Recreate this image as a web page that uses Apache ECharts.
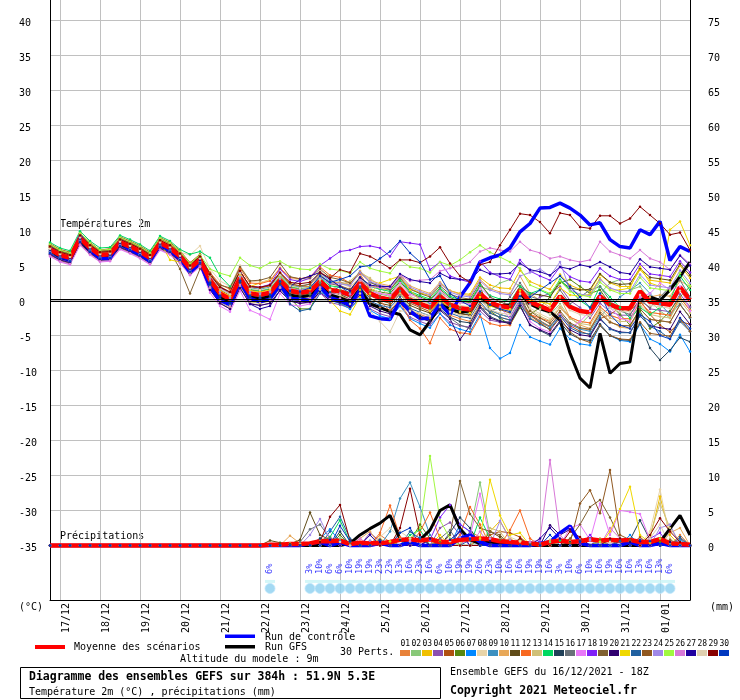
<!DOCTYPE html>
<html>
<head>
<meta charset="UTF-8">
<title>Diagramme des ensembles GEFS</title>
<script src="https://cdn.jsdelivr.net/npm/echarts@6.0.0/dist/echarts.min.js"></script>
<style>
  body { margin: 0; background: #fff; }
  #main { width: 740px; height: 700px; }
</style>
</head>
<body>
<div id="main"></div>
<script type="text/javascript">
// ---- tick labels / categories ----
var days = ['17/12','18/12','19/12','20/12','21/12','22/12','23/12','24/12',
            '25/12','26/12','27/12','28/12','29/12','30/12','31/12','01/01'];

// ---- temperatures 2m (°C), 6h steps from 16/12 18Z ----
var tempMean = [7.3,6.5,6.1,8.9, 7.5,6.5,6.6,8.3, 7.7,7.0,6.1,8.2, 7.5,6.3,4.6,5.8, 2.9,1.0,0.2,3.2, 1.0,0.8,1.1,2.9, 1.4,1.1,1.3,2.7, 1.5,1.3,0.8,2.5, 1.0,0.4,0.1,1.7, 0.1,-0.5,-1.0,0.6, -0.6,-1.1,-1.3,1.0, -0.3,-0.8,-1.0,1.5, -0.2,-0.8,-1.4,0.6, -0.9,-1.5,-1.7,0.6, -0.6,-1.1,-1.1,1.3, -0.2,-0.4,-0.6,1.9, 0.1];
var tempCtrl = [7.5,6.3,5.8,9.2, 7.2,6.0,6.0,8.5, 7.2,6.6,5.6,8.0, 7.1,6.0,4.0,5.4, 2.0,0.0,-0.6,2.6, 0.3,-0.2,0.2,2.2, 0.3,0.2,0.0,2.0, 0.4,0.0,-0.7,1.5, -2.2,-2.6,-2.7,0.0, -1.5,-2.6,-2.5,-0.5, -2.0,0.5,2.5,5.5, 6.1,6.5,7.5,9.8, 11.0,13.2,13.3,13.9, 13.2,12.2,10.8,11.1, 8.7,7.7,7.5,10.1, 9.4,11.3,5.7,7.7, 7.0];
var tempGfs = [7.2,6.2,5.8,8.7, 7.2,6.2,6.3,8.1, 7.4,6.6,5.8,7.9, 7.2,6.0,4.2,5.5, 2.4,0.5,-0.3,2.8, 0.5,0.2,0.6,2.4, 0.8,0.5,0.7,2.1, 0.8,0.4,-0.2,1.6, -0.5,-1.0,-1.6,-2.0, -4.2,-4.9,-3.0,-0.6, -1.2,-1.7,-1.5,0.6, -0.5,-0.8,-0.6,1.0, -0.5,-1.2,-1.6,-2.8, -7.5,-11.1,-12.5,-4.7, -10.4,-9.0,-8.8,0.1, 0.5,0.0,1.5,3.4, 5.5];

var tempP01 = [7.6,6.8,6.4,9.2, 7.8,6.8,6.9,8.6, 8.0,7.3,6.4,8.5, 7.8,6.6,4.9,6.3, 3.6,1.8,1.0,4.2, 2.0,1.8,2.1,3.9, 2.4,2.0,2.0,3.2, 1.5,0.8,0.0,1.5, -0.2,-1.0,-1.4,0.2, -1.4,-2.0,-2.5,-0.9, -2.1,-2.6,-3.0,-0.5, -1.8,-2.4,-2.8,0.0, -2.5,-3.2,-3.8,-1.9, -3.4,-4.0,-4.2,-1.9, -3.1,-3.6,-3.6,-1.2, -2.7,-2.9,-3.1,-0.6, -2.4];
var tempP02 = [6.8,6.0,5.6,8.4, 7.0,6.0,6.1,7.8, 7.2,6.5,5.6,7.7, 7.0,5.8,4.0,5.0, 2.1,0.2,-0.6,2.4, 0.2,0.0,0.3,2.1, 0.8,0.5,0.9,2.6, 1.6,1.5,1.2,3.0, 1.5,0.9,0.6,2.2, 0.6,0.0,-0.5,1.2, 0.2,-0.3,-0.5,2.0, 1.5,2.5,3.0,2.0, 0.5,-1.0,-2.0,-0.5, -2.5,-3.5,-2.0,1.0, 2.5,3.0,1.5,2.0, 0.0,-1.5,-2.5,0.5, -1.0];
var tempP03 = [7.8,7.0,6.6,9.4, 8.0,7.0,7.1,8.8, 8.2,7.5,6.6,8.7, 8.0,6.8,5.1,6.3, 3.2,1.3,0.5,3.5, 2.0,2.5,3.0,3.5, 2.5,1.5,0.5,2.0, 0.5,-0.5,-1.0,1.5, 2.2,1.7,1.5,3.2, 1.7,1.1,0.7,2.4, 1.4,1.0,0.9,3.3, 2.2,1.8,1.7,4.3, 2.7,2.1,1.6,3.7, 2.2,1.6,1.4,3.7, 2.5,2.0,2.0,4.4, 2.9,2.7,2.5,5.0, 3.2];
var tempP04 = [7.0,6.2,5.8,8.6, 7.2,6.2,6.3,8.0, 7.4,6.7,5.8,7.9, 7.2,6.0,4.2,5.2, 1.6,-0.4,-1.2,1.8, -0.4,-0.7,-0.4,1.4, 0.0,-0.4,-0.3,1.1, -0.3,-0.6,-1.1,0.4, -1.2,-1.9,-2.3,-0.7, -2.4,-3.0,-3.5,-1.9, -3.1,-3.6,-3.8,-1.5, -2.8,-3.1,-3.0,-0.5, -0.5,0.5,1.0,2.0, 0.0,-1.0,-2.5,-0.4, -1.6,-2.1,-2.1,0.3, -1.2,-1.4,-1.6,0.9, -0.9];
var tempP05 = [8.1,7.3,6.9,9.6, 8.3,7.2,7.4,9.1, 8.5,7.8,6.9,9.0, 8.3,7.1,5.4,6.6, 3.4,1.5,0.7,3.7, 1.5,1.3,1.6,3.4, 1.9,1.6,1.8,3.2, 1.8,1.4,0.8,2.4, 0.7,0.0,-0.4,1.2, -0.4,-1.0,-1.6,0.0, -1.2,-1.8,-2.1,0.2, -1.4,-2.0,-2.4,0.0, -2.0,-2.9,-3.7,-1.8, -3.6,-4.4,-4.9,-2.6, -2.0,-1.0,-1.5,0.0, -2.0,-3.5,-4.5,-3.0, -3.4];
var tempP06 = [7.3,6.5,6.1,8.9, 7.5,6.5,6.6,8.3, 7.7,7.0,6.1,8.2, 7.5,6.3,4.6,5.8, 2.0,0.0,-0.8,2.2, 0.0,-0.2,0.1,1.9, 0.4,-1.2,-1.2,1.7, 0.5,0.4,0.0,2.2, 1.6,1.2,1.0,2.7, 1.1,0.5,0.0,1.6, 0.4,-0.1,-0.3,2.0, -1.5,-2.5,-3.5,-1.0, -2.0,-1.0,0.5,2.5, 3.0,2.0,1.0,1.5, -0.5,-2.0,-3.5,-1.5, -4.0,-3.0,-1.5,0.5, 2.0];
var tempP07 = [6.7,5.9,5.5,8.3, 6.9,5.9,6.0,7.7, 7.1,6.4,5.5,7.6, 6.9,5.7,4.0,5.2, 2.4,0.5,-0.3,2.7, 0.5,0.3,0.4,2.2, 0.6,0.3,0.2,1.6, 0.0,-0.4,-1.2,0.3, -1.4,-2.2,-2.6,-0.8, -2.6,-3.3,-3.9,-1.9, -3.5,-4.1,-4.5,-2.0, -6.8,-8.3,-7.5,-3.5, -5.2,-5.8,-6.3,-4.0, -5.5,-6.2,-6.4,-3.6, -5.0,-5.7,-5.9,-3.4, -5.5,-6.2,-7.3,-4.9, -7.3];
var tempP08 = [7.9,7.1,6.7,9.5, 8.1,7.1,7.2,8.9, 8.3,7.6,6.7,8.8, 8.1,6.9,6.5,7.8, 4.5,2.8,2.0,5.0, 2.8,2.6,2.9,4.7, 3.2,2.9,3.0,4.3, 2.9,2.5,1.9,3.4, 1.8,1.1,0.7,2.3, 0.6,0.0,-0.5,1.1, -0.1,-0.7,-0.9,1.3, -0.2,-0.9,-1.3,1.0, -1.1,-1.9,-2.6,-0.7, -2.4,-3.0,-3.2,-0.9, -2.1,-2.6,-2.6,-0.2, -1.7,-1.9,-2.1,0.4, -1.4];
var tempP09 = [7.1,6.3,5.9,8.7, 7.3,6.3,6.4,8.1, 7.5,6.8,5.9,8.0, 7.3,6.1,4.4,5.6, 3.5,1.7,0.9,3.9, 1.8,1.6,1.9,3.7, 2.2,1.9,2.4,4.0, 2.6,2.6,2.2,4.2, 2.6,2.0,1.5,3.4, 1.2,0.3,-0.4,1.0, -0.8,-1.5,-2.0,0.1, -1.4,-2.0,-2.4,0.2, -2.2,-3.0,-3.8,-2.0, -3.4,-4.1,-4.4,-2.2, -1.0,0.5,1.5,2.5, 1.0,-0.5,-2.0,-0.5, -2.5];
var tempP10 = [7.7,6.9,6.5,9.3, 7.9,6.9,7.0,8.7, 8.1,7.4,6.5,8.6, 7.9,6.7,5.0,6.2, 2.9,1.0,0.2,3.2, 1.0,0.8,1.2,3.1, 1.7,1.6,1.9,3.5, 2.5,2.6,2.3,4.2, 2.9,2.4,2.1,3.7, 2.1,1.5,1.0,2.6, 1.4,0.9,0.7,3.0, 1.7,1.2,1.0,3.5, 1.0,0.0,-1.0,0.5, -2.5,-3.5,-4.0,-1.5, -3.0,-3.8,-4.0,-1.0, 0.5,0.8,0.6,2.8, 2.0];
var tempP11 = [6.5,5.7,5.3,8.1, 6.7,5.7,5.8,7.5, 6.9,6.2,5.3,7.4, 6.7,5.5,3.8,5.0, 2.6,0.7,-0.1,2.9, 0.7,0.5,0.8,2.6, 1.1,0.8,1.0,2.4, 1.1,0.9,0.2,1.9, 0.3,-0.4,-0.7,0.9, -0.7,-1.3,-1.8,-0.2, -1.4,-1.9,-2.1,0.2, -0.8,-1.0,-0.8,2.0, 1.0,0.8,0.5,2.8, 1.8,1.5,1.6,3.8, 2.6,2.3,2.4,4.6, 3.3,3.1,2.9,5.2, 3.6];
var tempP12 = [7.5,6.7,6.3,9.1, 7.7,6.7,6.8,8.5, 7.9,7.2,6.3,8.4, 7.7,6.5,4.8,6.0, 4.0,2.3,1.6,4.6, 2.5,2.4,2.8,4.6, 3.3,3.1,3.4,4.8, 3.6,3.3,2.5,3.8, 1.5,0.0,-1.5,-0.2, -2.8,-4.0,-6.1,-2.5, -4.1,-4.6,-4.8,-2.3, -3.3,-3.6,-3.5,-0.5, -2.0,-2.5,-3.0,-1.0, -2.4,-3.0,-3.2,-0.9, -2.1,-2.6,-2.6,-0.2, -1.7,-1.9,-2.1,0.4, -1.4];
var tempP13 = [6.9,6.1,5.7,8.5, 7.1,6.1,6.2,7.9, 7.3,6.6,5.7,7.8, 7.1,5.9,4.1,5.0, 1.7,-0.2,-1.0,2.0, -0.2,-0.4,-0.1,1.7, 0.2,-0.1,0.1,1.6, 1.5,2.2,2.8,4.0, 3.2,2.0,0.5,1.0, -1.0,-2.5,-3.0,-1.0, -0.5,-1.0,-1.2,1.0, -0.6,-1.2,-1.5,0.8, -1.4,-2.2,-2.9,-1.0, -2.6,-3.3,-3.5,-1.2, -2.5,-3.0,-3.0,-0.6, -2.0,-2.3,-2.5,0.0, -1.8];
var tempP14 = [8.3,7.5,7.1,9.9, 8.5,7.5,7.6,9.3, 8.7,8.0,7.1,9.2, 8.5,7.3,6.6,7.0, 6.1,3.5,2.0,4.0, 1.6,1.4,1.7,3.5, 2.0,1.7,1.9,3.3, 2.1,1.9,1.5,3.3, 2.0,1.6,1.3,2.9, 1.3,0.7,0.2,1.8, 0.6,0.1,-0.1,2.2, 0.7,0.2,-0.2,2.0, 1.0,1.5,0.8,3.0, 1.5,0.0,-1.0,2.0, 0.5,-1.0,-2.5,-1.0, -2.0,-1.0,0.0,3.5, 1.5];
var tempP15 = [7.1,6.3,5.9,8.7, 7.3,6.3,6.4,8.1, 7.5,6.8,5.9,8.0, 7.3,6.1,4.4,5.6, 2.3,0.4,-0.4,2.6, 0.4,0.2,0.5,2.3, 0.8,0.5,0.6,2.0, 0.5,0.2,-0.4,1.2, -0.5,-1.2,-1.6,0.0, -1.6,-2.2,-2.8,-1.2, -2.4,-3.0,-3.2,-0.8, -2.3,-2.9,-3.2,-0.7, -3.5,-4.3,-5.0,-3.1, -4.8,-5.5,-5.7,-3.4, -5.0,-5.6,-5.7,-3.3, -6.8,-8.5,-7.1,-5.3, -5.9];
var tempP16 = [7.6,6.8,6.4,9.2, 7.8,6.8,6.9,8.6, 8.0,7.3,6.4,8.5, 7.8,6.6,4.9,6.1, 2.7,0.8,0.0,3.0, 0.8,0.6,0.9,2.7, 1.2,0.9,1.1,2.5, 1.2,1.0,0.5,2.2, 0.7,0.1,-0.2,1.4, -0.2,-0.8,-1.3,0.3, -2.5,-3.5,-4.0,-1.0, -1.5,-1.0,0.5,2.5, 0.6,0.1,-0.5,1.5, -0.5,0.5,1.5,2.0, 0.0,-1.5,-2.0,0.0, -1.0,0.5,2.0,2.9, 0.5];
var tempP17 = [6.3,5.5,5.1,7.9, 6.5,5.5,5.6,7.3, 6.7,6.0,5.1,7.2, 6.5,5.3,3.6,4.8, 1.1,-0.8,-1.6,1.4, -1.4,-2.0,-2.7,1.0, -0.6,-0.8,-0.5,1.0, 0.2,0.3,0.2,2.2, 1.3,1.0,0.8,2.5, 0.9,0.3,-0.2,1.4, 0.2,-0.3,-0.5,1.8, 0.5,-1.0,-2.5,0.0, -3.0,-4.0,-4.5,-2.0, -4.0,-3.0,-1.5,0.5, -1.0,-2.5,-3.0,0.5, 1.0,2.5,1.5,2.0, -1.5];
var tempP18 = [6.7,5.9,5.5,8.3, 6.9,5.9,6.0,7.7, 7.1,6.4,5.5,7.6, 6.9,5.7,4.0,5.4, 3.5,1.8,1.2,4.0, 2.0,1.9,2.3,4.5, 3.0,2.7,3.2,5.0, 6.0,7.0,7.2,7.7, 7.8,7.5,6.3,8.4, 8.2,8.0,4.4,5.5, 3.5,3.0,2.6,5.6, 4.0,3.4,3.0,5.8, 4.2,3.5,2.9,4.8, 3.4,2.8,2.6,4.6, 3.5,3.0,3.0,5.2, 3.8,3.6,3.4,5.6, 4.0];
var tempP19 = [7.8,7.0,6.6,9.4, 8.0,7.0,7.1,8.8, 8.2,7.5,6.6,8.1, 7.0,4.5,1.0,4.5, 3.6,2.2,1.8,4.8, 2.8,2.9,3.3,5.3, 3.4,3.1,3.3,4.5, 3.3,3.0,2.5,4.0, 2.6,2.0,1.6,3.2, 1.6,1.0,0.5,2.1, 0.9,0.4,0.2,2.5, 0.5,-0.2,-0.7,1.5, -1.5,-2.5,-3.3,-1.5, -3.2,-3.9,-4.1,-1.8, -3.1,-3.6,-3.6,-1.2, -2.7,-2.9,-3.1,-0.6, -2.4];
var tempP20 = [6.6,5.8,5.4,8.2, 6.8,5.8,5.9,7.6, 7.0,6.3,5.4,7.5, 6.8,5.6,3.9,5.0, 1.5,-0.4,-1.2,1.8, -0.5,-0.7,-0.4,1.4, -0.1,-0.4,-0.2,1.2, 0.0,-0.3,-0.9,0.8, -0.8,-1.5,-1.9,-0.3, -1.9,-2.5,-3.0,-1.4, -2.6,-5.6,-3.6,-1.0, -2.5,-3.0,-3.3,-0.8, -3.5,-4.2,-4.8,-2.9, -4.2,-4.9,-5.1,-2.7, -4.0,-4.5,-4.6,-2.2, -3.6,-3.9,-4.1,-1.6, -3.4];
var tempP21 = [7.5,6.7,6.3,9.1, 7.7,6.7,6.8,8.5, 7.9,7.2,6.3,8.4, 5.8,5.5,4.0,5.6, 3.3,1.4,0.6,3.6, 1.4,1.2,1.5,3.3, 1.8,1.4,1.6,3.0, 0.0,-1.5,-2.0,0.5, 1.0,2.5,3.0,3.5, 1.5,0.0,-1.5,0.1, -1.1,-1.6,-1.8,0.5, -0.8,-1.2,-1.3,1.4, 0.0,-0.2,-0.5,1.8, 0.8,0.6,0.9,3.2, 1.5,1.5,1.8,4.8, 2.5,2.0,10.1,11.3, 7.9];
var tempP22 = [7.0,6.2,5.8,8.6, 7.2,6.2,6.3,8.0, 7.4,6.7,5.8,7.9, 7.2,6.0,4.3,5.4, 2.1,0.2,-0.6,2.4, 0.2,0.0,0.3,2.1, -0.5,-1.5,-1.2,1.0, 1.2,2.0,1.0,2.0, -0.1,-0.7,-1.0,0.5, -1.1,-1.7,-2.2,-0.6, -1.8,-2.3,-2.5,-0.2, -1.8,-2.4,-2.8,-0.4, -2.6,-3.4,-4.1,-2.2, -3.9,-4.6,-4.8,-2.5, -4.1,-4.6,-4.6,-2.2, -3.7,-4.4,-5.5,-3.0, -4.4];
var tempP23 = [7.9,7.1,6.7,9.5, 8.1,7.1,7.2,8.9, 8.3,7.6,6.7,8.8, 8.1,6.9,5.2,6.4, 3.9,2.0,1.2,4.2, 2.0,1.8,2.1,3.9, 2.4,2.1,2.3,3.7, 2.4,2.1,1.6,3.2, 1.3,0.6,0.3,1.9, 0.2,-0.4,-0.9,0.7, -0.5,-1.0,-1.2,1.0, -0.6,-1.3,-1.8,0.5, -2.0,-3.2,-4.2,-2.5, -4.5,-5.5,-6.0,-3.6, -5.0,-5.5,-5.6,-3.1, -4.7,-4.9,-5.1,-2.6, -4.4];
var tempP24 = [6.9,6.1,5.7,8.5, 7.1,6.1,6.2,7.9, 7.3,6.6,5.7,7.8, 7.1,5.9,4.2,5.5, 3.1,1.2,0.4,3.4, 1.2,1.0,1.3,3.1, 1.7,1.5,1.8,3.3, 2.4,2.4,2.1,4.0, 2.7,2.2,1.9,3.5, 1.9,1.3,0.8,2.4, 1.2,0.7,0.5,2.8, 1.5,1.0,0.8,3.5, 4.0,4.5,3.5,5.5, 1.5,0.9,0.7,3.0, 1.8,1.3,1.3,3.7, 2.2,2.0,1.8,4.3, 2.5];
var tempP25 = [8.0,7.2,6.8,9.6, 8.2,7.2,7.3,9.0, 8.4,7.7,6.8,8.9, 8.2,7.0,5.3,6.5, 4.5,3.9,3.5,6.1, 5.0,4.6,5.4,5.6, 4.8,4.5,4.4,5.2, 4.5,4.3,3.9,5.5, 4.6,4.2,3.9,5.8, 4.8,4.6,4.0,5.5, 5.0,5.8,6.9,7.9, 6.9,6.2,5.5,4.6, 2.2,1.6,1.0,2.8, 1.3,0.8,0.5,2.6, 1.5,1.0,1.0,3.3, 1.8,1.6,1.4,3.9, 2.1];
var tempP26 = [6.4,5.6,5.2,8.0, 6.6,5.6,5.7,7.4, 6.8,6.1,5.2,7.3, 6.6,5.4,3.7,4.9, 1.9,0.0,-0.8,2.2, 0.0,-0.2,0.1,1.9, 0.4,0.1,0.3,1.9, 0.9,1.0,0.9,3.0, 2.0,1.8,1.8,3.6, 2.8,2.9,3.0,4.2, 4.6,5.0,5.5,7.0, 7.5,7.2,7.0,8.4, 7.2,6.8,6.0,6.3, 5.8,5.5,5.8,8.4, 7.0,6.5,6.0,7.2, 6.0,5.5,4.4,6.5, 5.2];
var tempP27 = [7.3,6.5,6.1,8.9, 7.5,6.5,6.6,8.3, 7.7,7.0,6.1,8.2, 7.5,6.3,4.6,5.8, 2.5,0.6,-0.2,2.8, -0.5,-1.2,-0.8,1.5, 2.0,3.0,3.5,4.0, 3.0,2.0,1.4,3.3, 2.2,2.0,2.0,3.8, 3.0,2.7,2.5,3.9, 3.2,3.0,2.9,4.4, 3.8,3.8,3.9,5.3, 4.4,4.1,3.6,4.8, 4.5,5.1,4.8,5.5, 4.8,4.0,3.8,5.9, 4.8,4.6,4.4,6.4, 5.0];
var tempP28 = [7.4,6.6,6.2,9.0, 7.6,6.6,6.7,8.4, 7.8,7.1,6.2,8.3, 7.6,6.4,4.7,6.0, 3.6,1.7,0.9,3.9, 1.7,1.5,1.8,3.6, 2.1,1.8,1.8,3.0, 1.5,0.8,-0.5,1.0, -1.5,-3.0,-4.5,-1.5, -1.5,-1.8,-2.2,-0.4, -1.6,-2.1,-2.3,0.0, -1.3,-1.8,-2.0,0.5, -0.7,-1.3,-1.9,0.1, -1.4,-2.0,-2.2,0.1, -1.1,-1.6,-1.6,0.8, -0.7,-0.9,-1.1,1.4, -0.4];
var tempP29 = [7.7,6.9,6.5,9.3, 7.9,6.9,7.0,8.7, 8.1,7.4,6.5,8.6, 7.9,6.7,5.0,6.3, 3.7,1.9,1.2,4.2, 2.0,1.9,2.2,4.0, 2.6,2.4,2.6,4.0, 3.2,4.4,4.0,6.7, 6.3,5.5,4.6,5.8, 5.8,5.4,6.3,7.6, 5.3,3.5,2.6,5.1, 5.5,7.9,10.1,12.4, 12.2,11.2,9.6,12.5, 12.2,10.5,10.3,12.1, 12.1,11.0,11.7,13.4, 12.2,11.0,9.4,9.7, 7.2];
var tempP30 = [6.8,6.0,5.6,8.4, 7.0,6.0,6.1,7.8, 7.2,6.5,5.6,7.7, 7.0,5.8,4.1,5.4, 2.5,0.6,-0.2,2.8, 0.6,0.4,0.8,2.7, 1.4,1.3,1.8,3.5, 2.6,3.0,3.5,4.8, 5.0,6.0,7.0,8.5, 6.8,5.5,3.0,3.5, 1.0,0.0,-0.8,1.3, -0.6,-1.2,-1.6,0.6, 0.5,1.5,2.5,3.5, 2.0,0.5,-1.0,1.0, -2.0,-3.5,-4.0,-2.0, -3.0,-5.0,-5.5,-2.5, -4.0];

// ---- precipitations (mm / 6h) ----
var precMean = [0,0,0,0,0,0,0,0,0,0,0,0,0,0,0,0,0,0,0,0, 0,0,0.1,0.1,0.2, 0.2,0.3,0.6,0.6,0.7, 0.2,0.4,0.3,0.3,0.5, 0.8,0.9,0.7,0.9,0.5, 0.5,0.8,0.9,1.0,0.9, 0.6,0.5,0.4,0.3,0.1, 0.5,0.7,0.5,0.6,0.9, 0.7,0.8,0.7,0.8,0.5, 0.5,0.9,0.3,0.2,0.1];
var precCtrl = [0,0,0,0,0,0,0,0,0,0,0,0,0,0,0,0,0,0,0,0, 0,0,0,0,0, 0,0.3,0.5,0,0.4, 0,0,0,0.3,0, 0,0.5,0,0,0, 0,1.0,1.5,0.5,0, 0,0,0,0,0.3, 0.5,1.8,2.8,0.3,0, 0,0,0,0.5,0, 0,0.3,0,0,0];
var precGfs = [0,0,0,0,0,0,0,0,0,0,0,0,0,0,0,0,0,0,0,0, 0,0,0,0,0, 0,0,0,0,0, 0.3,1.5,2.4,3.2,4.3, 0.9,0.5,0.8,2.2,5.0, 5.8,2.4,0.8,0.3,0.5, 0.3,0,0,0,0, 0,0,0,0,0, 0,0,0,0,0, 0.2,0.5,2.4,4.3,1.5];

var precP01 = [0,0,0,0,0,0,0,0,0,0,0,0,0,0,0,0,0,0,0,0, 0,0,0,0,0.3, 0,0,0.8,1.2,0, 0,0,0,1.5,0.5, 0,0,0,1.0,0, 0,0,2.0,1.2,0, 0,0,0.5,0,0, 0,0.8,0,0,0, 1.0,0,0,0,0, 0.5,0,0,1.5,0];
var precP02 = [0,0,0,0,0,0,0,0,0,0,0,0,0,0,0,0,0,0,0,0, 0,0,0,0,0, 0,0,0,0,1.0, 0.5,0,0,0,0, 0,0.8,0,0,0, 0,0,2.0,9.0,1.5, 0,0,0,0,0, 0.5,0,0,0,0, 0,0,0,0.6,0, 0,0,0.4,0,0];
var precP03 = [0,0,0,0,0,0,0,0,0,0,0,0,0,0,0,0,0,0,0,0, 0,0,0,0,0, 0,0,0.5,0,0, 0,0,0,1.0,0, 0,0,0,0,0.6, 0,0,0,0,2.0, 3.5,1.0,0,0,0, 0,0,0.4,0,0, 0,0,0,0,0, 1.0,7.0,1.5,0,0];
var precP04 = [0,0,0,0,0,0,0,0,0,0,0,0,0,0,0,0,0,0,0,0, 0,0,0,0,0, 0,0,0,1.2,0, 0,0,1.8,0.6,0, 0,0,0,0,2.5, 3.3,1.5,0,0,0, 0,0,0,0.5,0, 0,0,0,0,0, 0,0,1.0,0,0, 0,0,0,0,0];
var precP05 = [0,0,0,0,0,0,0,0,0,0,0,0,0,0,0,0,0,0,0,0, 0,0,0,0,0, 0,0,0,0,0, 0.4,0,0,0,0, 0.8,0,0,0,0, 0,0,0,0,1.5, 2.0,1.8,1.2,0,0, 0,0,0,0.8,0, 0,0,0,0,1.2, 0,0,0,1.0,0];
var precP06 = [0,0,0,0,0,0,0,0,0,0,0,0,0,0,0,0,0,0,0,0, 0,0,0,0,0, 0,0,0,0,1.5, 0,0,0,0,0, 0,0.5,3.0,1.0,0, 0,0,0,0,0, 0,0,0,0.3,0, 0,0,0,0,0, 0.8,0,0,0,0, 0,0.5,0,0,0];
var precP07 = [0,0,0,0,0,0,0,0,0,0,0,0,0,0,0,0,0,0,0,0, 0,0,0,0,0, 0,0,1.0,2.3,0.6, 0,0,0,0,0, 0,0,1.2,0,0, 0,3.0,2.0,0,0, 0,0,0,0,0.6, 0,0,0,0.7,0, 0,0,0,1.5,0, 0,0,0,0.8,0];
var precP08 = [0,0,0,0,0,0,0,0,0,0,0,0,0,0,0,0,0,0,0,0, 0,0,0,0,0, 0,0,0,0,0, 0,0,0,1.2,2.5, 1.0,0,0,0,0, 0.6,0,0,0,0, 1.0,0,0,0,0, 0,0,0,0,0, 0,0.5,0,0,0, 2.0,8.0,1.0,0,0];
var precP09 = [0,0,0,0,0,0,0,0,0,0,0,0,0,0,0,0,0,0,0,0, 0,0,0,0,0, 0,0,0,0,0, 0,0,0,0,2.0, 6.7,9.0,5.5,1.5,0, 0,0,0,0.8,0, 0,0,0,0.5,0, 0,0,0,0,1.0, 0,0,0,0,0, 0,0,0,0,0];
var precP10 = [0,0,0,0,0,0,0,0,0,0,0,0,0,0,0,0,0,0,0,0, 0,0,0,0,1.4, 0.3,0,0,0,0, 0,1.0,2.0,0,0, 0,0,0,0.8,0, 0,0,0,0,0, 0,1.0,0,0,0, 0,0,0.6,0,0, 0,0,0,0,0, 0,0,1.8,2.5,0];
var precP11 = [0,0,0,0,0,0,0,0,0,0,0,0,0,0,0,0,0,0,0,0, 0,0,0.7,0.4,0.2, 0.8,4.7,1.5,0.8,0, 0,0,0,0,0.6, 0,0,0,0,0, 0,0,0,0,2.0, 1.2,0,0,0,0, 0,0,0,0,0, 0,0,0.6,0,0, 0,0,0,0,0];
var precP12 = [0,0,0,0,0,0,0,0,0,0,0,0,0,0,0,0,0,0,0,0, 0,0,0,0,0, 0,0,0,0,0, 0,0,0,1.8,5.7, 1.2,0,2.0,4.7,1.0, 0,1.5,5.5,3.0,0, 0,2.2,5.0,1.0,0, 0,0,0,0,0, 0.6,0,0,0,0.8, 0,0,0,0,0];
var precP13 = [0,0,0,0,0,0,0,0,0,0,0,0,0,0,0,0,0,0,0,0, 0,0,0,0,0, 0,0,0,0,0, 0.5,0,0,0,0, 0,1.0,0,0,0, 0,0,0,0,2.5, 2.0,0,0,0,0, 0.8,0,0,0,0, 0,0,0,0,0, 1.5,6.0,2.5,0.5,0];
var precP14 = [0,0,0,0,0,0,0,0,0,0,0,0,0,0,0,0,0,0,0,0, 0,0,0,0,0, 0,0,0,1.2,3.6, 0.5,0,0,0,0, 0,1.5,2.2,0,0, 0,0,0,4.0,1.0, 0,0,0,0,0, 0,0.7,0,0,0, 0,0,0,0.5,0, 0,0,0,0,0];
var precP15 = [0,0,0,0,0,0,0,0,0,0,0,0,0,0,0,0,0,0,0,0, 0,0,0,0,0, 0,0,1.0,0,2.0, 0,0,0,0,0, 0.8,0,0,0,0, 1.8,4.0,2.5,0,0, 0,0,0,0,0, 0,0,0.5,0,0, 0,0,0,0.8,3.6, 0.8,0,0,0,0];
var precP16 = [0,0,0,0,0,0,0,0,0,0,0,0,0,0,0,0,0,0,0,0, 0,0,0,0,0, 0.5,2.3,3.0,1.0,0, 0,0,0,0.7,0, 0,0,0,0,1.0, 2.2,0,0,0,0, 0,0,0,0,0.4, 0,0,0,0,0, 0,0.8,0,0,0, 0,0,0,0,0];
var precP17 = [0,0,0,0,0,0,0,0,0,0,0,0,0,0,0,0,0,0,0,0, 0,0,0,0,0, 0,0,0,0,0, 0,0,0,0,0, 0,0.6,0,0,0, 0,0,1.2,7.4,1.0, 0,0,0,0.5,0, 0,0,2.5,3.0,0.8, 6.0,1.5,5.0,4.8,4.5, 0.8,0,0,0,0];
var precP18 = [0,0,0,0,0,0,0,0,0,0,0,0,0,0,0,0,0,0,0,0, 0,0,0,0,0, 0,0,0,0,0, 0,0,0,0,0, 0,0,0,0.8,4.0, 5.8,3.0,2.0,0,0, 0,0,0,0,0.6, 0,0,0,0,1.5, 0,0,0,0,0, 1.0,1.8,0,0,0];
var precP19 = [0,0,0,0,0,0,0,0,0,0,0,0,0,0,0,0,0,0,0,0, 0,0,0,0,0, 0,0,0,0,0, 0,0,0,0,0, 0,1.0,0,0,0, 1.5,9.2,4.5,2.5,2.0, 1.5,0,0,0,0, 0,0,1.0,3.0,5.5, 6.5,4.0,1.0,0,0, 0,0,0.8,0,0];
var precP20 = [0,0,0,0,0,0,0,0,0,0,0,0,0,0,0,0,0,0,0,0, 0,0,0,0,0, 0,0,0,0,0, 0,0,0,0.5,0, 0,0,0,1.0,0, 0,0,0,0,0.6, 0,0,0,0,0, 2.9,1.5,2.3,0.6,0, 0,0,0,0.5,0, 0,0,0.5,0,0];
var precP21 = [0,0,0,0,0,0,0,0,0,0,0,0,0,0,0,0,0,0,0,0, 0,0,0,0,0, 0,0,0,0,0, 0,0,0,0,0.6, 0,0,0,0,1.5, 0,0,0,1.0,9.4, 4.3,1.5,1.8,0,0, 0,0,0,0,0, 0,2.0,5.2,8.4,1.5, 0.4,0,0,0,0];
var precP22 = [0,0,0,0,0,0,0,0,0,0,0,0,0,0,0,0,0,0,0,0, 0,0,0,0,0, 0,0,0,2.0,4.1, 1.0,0,0,0,0, 0,2.0,1.0,0,0, 0,0,0.8,0,0, 0,0,0,0.5,0, 0,0,0,0,0, 0,0,0.6,0,0, 0,0,0,1.2,0];
var precP23 = [0,0,0,0,0,0,0,0,0,0,0,0,0,0,0,0,0,0,0,0, 0,0,0,0,0, 0,0,0,0,0, 0.5,0,0,0,0, 0,0,0,0,0.5, 0,0,0,0,0, 0.8,0,0,0,0, 0,0,0.3,6.0,7.9, 4.6,10.8,1.5,0.8,0, 0,0,0,0.5,0];
var precP24 = [0,0,0,0,0,0,0,0,0,0,0,0,0,0,0,0,0,0,0,0, 0,0,0,0,0, 0,1.5,3.8,0.8,0, 0,0,0.7,0,0, 0,0,0,0,0, 0,1.2,0,0,0, 3.5,0.8,0,0,0, 0,0,0,0,0.7, 0,0,0,0,0, 0,2.5,3.0,0,0];
var precP25 = [0,0,0,0,0,0,0,0,0,0,0,0,0,0,0,0,0,0,0,0, 0,0,0,0,0, 0,0,0,0,0, 0,0,0,0,0, 0,1.0,2.5,12.8,3.6, 1.0,0,0,0,0, 0,0,0.8,0,0, 0,0,0,0,0, 0.5,0,0,0,0, 0,1.0,0,0,0];
var precP26 = [0,0,0,0,0,0,0,0,0,0,0,0,0,0,0,0,0,0,0,0, 0,0,0,0,0, 0,0,0,0,0, 0,1.0,0,0,0, 0,0,0,0,0, 0,0,0,2.0,0, 0,0,0,0.5,0.8, 12.2,1.5,0,0,0, 0,2.5,1.0,0,0, 0,0,0,0,0];
var precP27 = [0,0,0,0,0,0,0,0,0,0,0,0,0,0,0,0,0,0,0,0, 0,0,0,0,0, 0,0,0,0.8,0, 0,0,1.5,0,0, 0,0,0,0,0, 0.8,2.0,0,0,0, 0,0,0,0,1.0, 2.5,1.0,0,0,0, 0,0,0,0,0.6, 0,0,0,0,0];
var precP28 = [0,0,0,0,0,0,0,0,0,0,0,0,0,0,0,0,0,0,0,0, 0,0,0,0,0, 0,0,0,0,0.5, 0,0,0,0,0, 2.0,1.0,0,0,0, 0,0,0,0,0, 0,1.2,0.6,0,0, 0,0,0,0.5,0, 0,0,0,0,0, 1.0,3.0,0,0,0];
var precP29 = [0,0,0,0,0,0,0,0,0,0,0,0,0,0,0,0,0,0,0,0, 0,0,0,0,0, 0,0,0.5,4.1,5.8, 0.7,0,0,0,0, 2.5,8.1,1.5,0,0, 0,0,0,0,0, 0,0,1.0,0,0, 0,0,2.0,1.2,0, 0,1.0,1.0,0,0, 1.5,3.9,2.0,0.5,0];
var precP30 = [0,0,0,0,0,0,0,0,0,0,0,0,0,0,0,0,0,0,0,0, 0,0,0,0,0, 0,0,0,0,2.8, 0.6,0,0,0.8,0, 1.8,2.5,0,0,0, 0,2.2,1.0,0,0, 0,0,0,0,0, 1.5,0,0,0.5,0, 0,0,0,0,0.8, 0.6,0,0,0,0];

// ---- snow probability (%) per step, null = none ----
var snowPct = [null,null,null,null,null,null,null,null,null,null,null,null,null,null,null,null,null,null,null,null,null,null,
  6,null,null,null,
  3,10,6,6,10,19,19,23,23,13,16,23,16,6,10,19,19,26,23,10,16,16,19,19,16,3,10,6,10,16,19,16,16,13,16,13,6,
  null,null];

var memberColors = ['#e8823a','#88c878','#f0c000','#8c50b0','#b05010','#588810','#0088ff','#e8d4a8','#3c90c0','#e8a858',
                    '#604c18','#f86820','#d0c078','#00d860','#204058','#687078','#e878f8','#8020f8','#806030','#300070',
                    '#f0d800','#2060a0','#905820','#a088e8','#a0f840','#d878d8','#2000a0','#e0d0b0','#880000','#0038c0'];

var tempPerts = [tempP01,tempP02,tempP03,tempP04,tempP05,tempP06,tempP07,tempP08,tempP09,tempP10,
                 tempP11,tempP12,tempP13,tempP14,tempP15,tempP16,tempP17,tempP18,tempP19,tempP20,
                 tempP21,tempP22,tempP23,tempP24,tempP25,tempP26,tempP27,tempP28,tempP29,tempP30];
var precPerts = [precP01,precP02,precP03,precP04,precP05,precP06,precP07,precP08,precP09,precP10,
                 precP11,precP12,precP13,precP14,precP15,precP16,precP17,precP18,precP19,precP20,
                 precP21,precP22,precP23,precP24,precP25,precP26,precP27,precP28,precP29,precP30];

var FONT = 'DejaVu Sans Mono';
var cats = tempMean.map(function (v, i) { return String(i); });
function isDay(idx) { return (idx - 1) % 4 === 0; }

function thinLine(data, color, yIdx) {
  return {
    type: 'line', xAxisIndex: 1, yAxisIndex: yIdx, data: data,
    symbol: 'circle', symbolSize: 2.5, showAllSymbol: true,
    lineStyle: { width: 1, color: color }, itemStyle: { color: color },
    silent: true
  };
}
function thickLine(data, color, width, yIdx) {
  return {
    type: 'line', xAxisIndex: 1, yAxisIndex: yIdx, data: data,
    showSymbol: false, lineStyle: { width: width, color: color }, silent: true
  };
}

var series = [];
tempPerts.forEach(function (d, k) { series.push(thinLine(d, memberColors[k], 2)); });
// double 0°C line
series[0].markLine = {
  silent: true, symbol: 'none', label: { show: false },
  lineStyle: { color: '#000', width: 1, type: 'solid' },
  data: [{ yAxis: 0.15 }, { yAxis: -0.14 }]
};
precPerts.forEach(function (d, k) { series.push(thinLine(d, memberColors[k], 3)); });
series.push(thickLine(tempGfs, '#000000', 3, 2));
series.push(thickLine(precGfs, '#000000', 3, 3));
series.push(thickLine(tempCtrl, '#0000ff', 3.5, 2));
series.push(thickLine(precCtrl, '#0000ff', 3.5, 3));
series.push(thickLine(tempMean, '#ff0000', 4.5, 2));
series.push(thickLine(precMean, '#ff0000', 4.5, 3));

// snow row: band, flakes and percentages
var snowBand = [], snowFlakes = [], snowText = [];
snowPct.forEach(function (p, i) {
  if (p !== null) {
    snowBand.push([i, -40.14]);
    snowFlakes.push([i, -41.14]);
    snowText.push({ value: [i, -39.07], name: p + '%' });
  }
});
series.push({ type: 'scatter', xAxisIndex: 1, yAxisIndex: 2, data: snowBand, symbol: 'rect',
  symbolSize: [10, 3], itemStyle: { color: '#c8f4f6' }, silent: true });
series.push({ type: 'scatter', xAxisIndex: 1, yAxisIndex: 2, data: snowFlakes, symbol: 'circle',
  symbolSize: 10, itemStyle: { color: '#8ccff0', borderColor: '#bfe6fa', borderWidth: 1 }, silent: true });
series.push({ type: 'scatter', xAxisIndex: 1, yAxisIndex: 2, data: snowText, symbolSize: 1,
  itemStyle: { color: 'rgba(0,0,0,0)' }, silent: true,
  label: { show: true, position: 'inside', rotate: 90, align: 'left', verticalAlign: 'middle',
    formatter: '{b}', color: '#0000ff', fontFamily: FONT, fontSize: 8.5 } });

// legend graphics
var graphic = [
  { type: 'text', x: 60, y: 224, style: { text: 'Températures 2m', font: '10px ' + FONT, fill: '#000', verticalAlign: 'middle' } },
  { type: 'text', x: 60, y: 536, style: { text: 'Précipitations', font: '10px ' + FONT, fill: '#000', verticalAlign: 'middle' } },
  { type: 'text', x: 19, y: 607, style: { text: '(°C)', font: '10px ' + FONT, fill: '#000', verticalAlign: 'middle' } },
  { type: 'text', x: 710, y: 607, style: { text: '(mm)', font: '10px ' + FONT, fill: '#000', verticalAlign: 'middle' } },
  { type: 'rect', shape: { x: 35, y: 645, width: 30, height: 4 }, style: { fill: '#ff0000' } },
  { type: 'text', x: 74, y: 647, style: { text: 'Moyenne des scénarios', font: '10px ' + FONT, fill: '#000', verticalAlign: 'middle' } },
  { type: 'rect', shape: { x: 225, y: 634.5, width: 30, height: 3.5 }, style: { fill: '#0000ff' } },
  { type: 'text', x: 265, y: 637, style: { text: 'Run de contrôle', font: '10px ' + FONT, fill: '#000', verticalAlign: 'middle' } },
  { type: 'rect', shape: { x: 225, y: 645, width: 30, height: 3.5 }, style: { fill: '#000000' } },
  { type: 'text', x: 265, y: 647, style: { text: 'Run GFS', font: '10px ' + FONT, fill: '#000', verticalAlign: 'middle' } },
  { type: 'text', x: 340, y: 652, style: { text: '30 Perts.', font: '10px ' + FONT, fill: '#000', verticalAlign: 'middle' } },
  { type: 'text', x: 180, y: 659.5, style: { text: 'Altitude du modele : 9m', font: '10px ' + FONT, fill: '#000', verticalAlign: 'middle' } },
  { type: 'rect', shape: { x: 20.5, y: 667.5, width: 420, height: 31 }, style: { fill: 'none', stroke: '#000', lineWidth: 1 } },
  { type: 'text', x: 29, y: 677, style: { text: 'Diagramme des ensembles GEFS sur 384h : 51.9N 5.3E', font: 'bold 11.5px ' + FONT, fill: '#000', verticalAlign: 'middle' } },
  { type: 'text', x: 29, y: 692, style: { text: 'Température 2m (°C) , précipitations (mm)', font: '10px ' + FONT, fill: '#000', verticalAlign: 'middle' } },
  { type: 'text', x: 450, y: 672.5, style: { text: 'Ensemble GEFS du 16/12/2021 - 18Z', font: '10px ' + FONT, fill: '#000', verticalAlign: 'middle' } },
  { type: 'text', x: 450, y: 691.5, style: { text: 'Copyright 2021 Meteociel.fr', font: 'bold 11.5px ' + FONT, fill: '#000', verticalAlign: 'middle' } }
];
memberColors.forEach(function (c, k) {
  var num = (k + 1 < 10 ? '0' : '') + (k + 1);
  graphic.push({ type: 'text', x: 400.5 + 11 * k, y: 644, style: { text: num, font: '8px ' + FONT, fill: '#000', verticalAlign: 'middle' } });
  graphic.push({ type: 'rect', shape: { x: 400 + 11 * k, y: 650, width: 10, height: 6 }, style: { fill: c } });
});

var axisFont = { fontFamily: FONT, fontSize: 10, color: '#000' };

var myChart = echarts.init(document.getElementById('main'));
var option = {
  backgroundColor: '#fff',
  animation: false,
  grid: [
    { left: 50, top: 20.5, width: 640, height: 525 },
    { left: 50, top: 0, width: 640, height: 600 }
  ],
  xAxis: [
    { gridIndex: 0, type: 'category', data: cats, boundaryGap: false, show: false },
    { gridIndex: 1, type: 'category', data: cats, boundaryGap: false,
      axisLine: { onZero: false, lineStyle: { color: '#000', width: 1 } },
      axisTick: { show: false },
      // leading blank line shifts the upright label right of its grid line
      axisLabel: Object.assign({ interval: function (idx) { return isDay(idx); }, rotate: 90, margin: 3,
        lineHeight: 12,
        formatter: function (v, idx) { return isDay(idx) ? '\n' + days[(idx - 1) / 4] : ''; } }, axisFont),
      splitLine: { show: true, interval: function (idx) { return isDay(idx); }, lineStyle: { color: '#c0c0c0', width: 1 } } }
  ],
  yAxis: [
    { gridIndex: 0, type: 'value', min: -35, max: 40, interval: 5, position: 'left',
      axisLine: { show: false }, axisTick: { show: false },
      axisLabel: Object.assign({ align: 'left', margin: 31, lineHeight: 5.5,
        formatter: function (v) { return '\n' + v; } }, axisFont),
      splitLine: { show: true, lineStyle: { color: '#c0c0c0', width: 1 } } },
    { gridIndex: 0, type: 'value', min: 0, max: 75, interval: 5, position: 'right',
      axisLine: { show: false }, axisTick: { show: false },
      axisLabel: Object.assign({ align: 'left', margin: 18, lineHeight: 5.5,
        formatter: function (v) { return '\n' + v; } }, axisFont),
      splitLine: { show: false } },
    { gridIndex: 1, type: 'value', min: -42.79, max: 42.93, position: 'left',
      axisLine: { show: true, onZero: false, lineStyle: { color: '#000', width: 1 } },
      axisTick: { show: false }, axisLabel: { show: false }, splitLine: { show: false } },
    { gridIndex: 1, type: 'value', min: -7.79, max: 77.93, position: 'right',
      axisLine: { show: true, onZero: false, lineStyle: { color: '#000', width: 1 } },
      axisTick: { show: false }, axisLabel: { show: false }, splitLine: { show: false } }
  ],
  graphic: graphic,
  series: series
};
myChart.setOption(option);
</script>
</body>
</html>
